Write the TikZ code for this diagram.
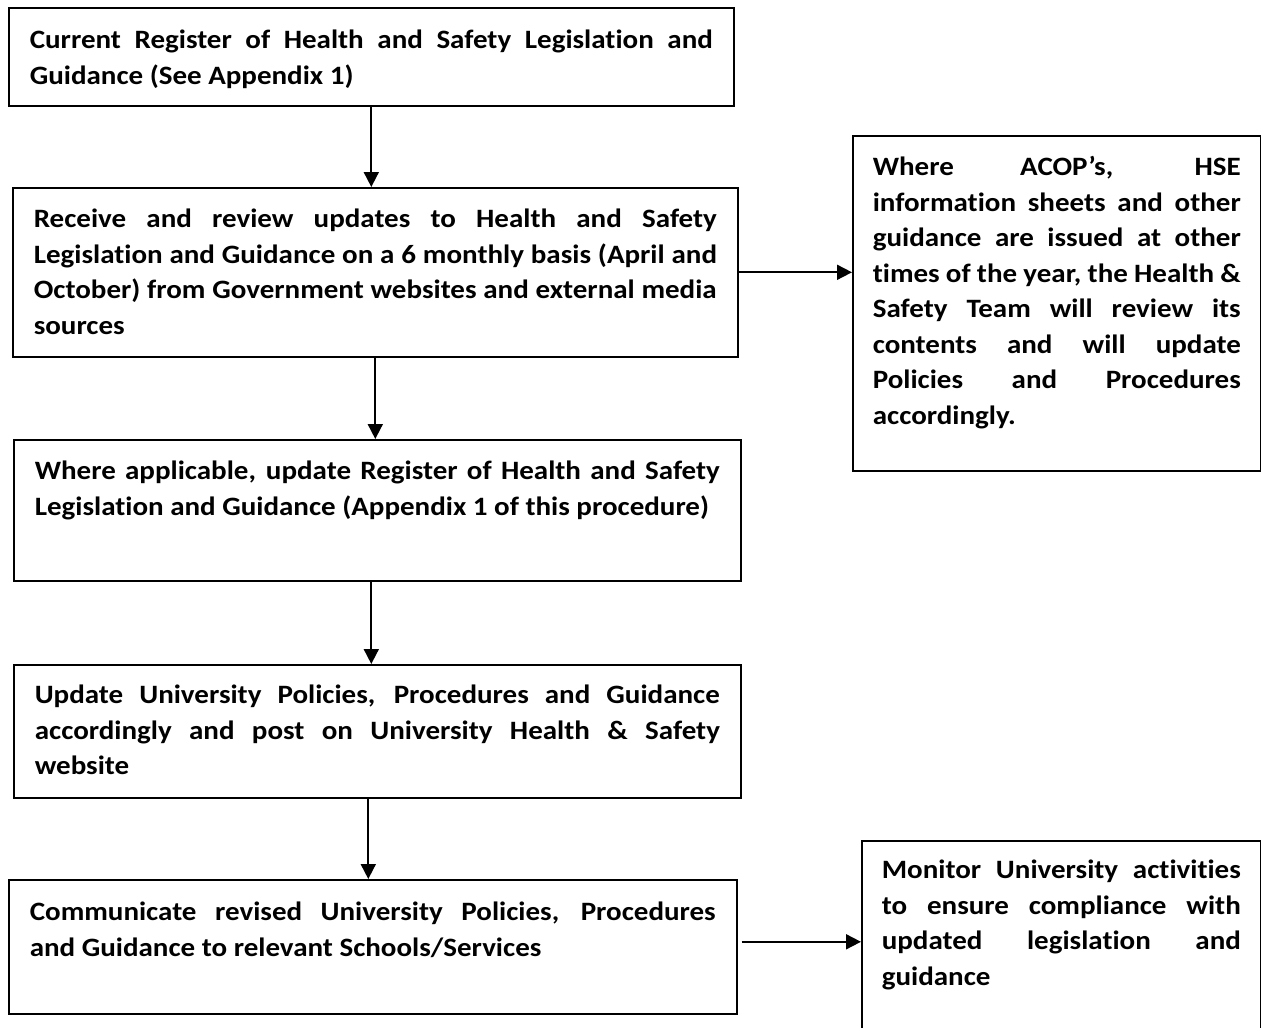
\documentclass[tikz,border=0pt]{standalone}
\usepackage{fontspec}
\setmainfont{Carlito}[FakeStretch=1.095, Ligatures=CommonOff]
\usetikzlibrary{arrows.meta}

\hyphenpenalty=10000
\exhyphenpenalty=10000
\tolerance=10000
\hbadness=10000
\hfuzz=20pt

% one justified line of a box
\newcommand{\fillline}[1]{\leavevmode\hbox to \linewidth{\spaceskip=0pt\xspaceskip=0pt #1}}

\tikzset{
  flowbox/.style={draw, line width=1.6pt, anchor=north west, inner xsep=21pt, inner ysep=0pt,
    align=justify, font=\fontsize{26.5}{35.5}\selectfont\bfseries},
  flowarrow/.style={line width=1.8pt, -{Triangle[length=15pt,width=15pt]}}
}

\begin{document}
\begin{tikzpicture}[x=1pt, y=-1pt]
  % page frame
  \useasboundingbox (0,0) rectangle (1261,1028);

  % main column
  \node[flowbox, text width=683pt, text height=41pt, text depth=57pt] (register) at (8,7)
    {\fillline{Current Register of Health and Safety Legislation and}\\
     Guidance (See Appendix 1)};
  \node[flowbox, text width=683pt, text height=40pt, text depth=129pt] (review) at (12,187)
    {\fillline{Receive and review updates to Health and Safety}\\
     \fillline{Legislation and Guidance on a 6 monthly basis (April and}\\
     \fillline{October) from Government websites and external media}\\
     sources};
  \node[flowbox, text width=685pt, text height=40pt, text depth=101pt] (update) at (13,439)
    {\fillline{Where applicable, update Register of Health and Safety}\\
     Legislation and Guidance (Appendix 1 of this procedure)};
  \node[flowbox, text width=685pt, text height=39pt, text depth=94pt] (policies) at (13,664)
    {\fillline{Update University Policies, Procedures and Guidance}\\
     \fillline{accordingly and post on University Health \& Safety}\\
     website};
  \node[flowbox, text width=686pt, text height=41pt, text depth=93pt] (communicate) at (8,879)
    {\fillline{Communicate revised University Policies, Procedures}\\
     and Guidance to relevant Schools/Services};

  % side boxes
  \node[flowbox, inner xsep=20pt, text width=368pt, text height=40pt, text depth=295pt] (acop) at (852,135)
    {\fillline{Where ACOP’s, HSE}\\
     \fillline{information sheets and other}\\
     \fillline{guidance are issued at other}\\
     \fillline{times of the year, the Health \&}\\
     \fillline{Safety Team will review its}\\
     \fillline{contents and will update}\\
     \fillline{Policies and Procedures}\\
     accordingly.};
  \node[flowbox, inner xsep=20pt, text width=359pt, text height=38pt, text depth=156pt] (monitor) at (861,840)
    {\fillline{Monitor University activities}\\
     \fillline{to ensure compliance with}\\
     \fillline{updated legislation and}\\
     guidance};

  % connectors
  \draw[flowarrow] (register.south) -- (register.south |- review.north);
  \draw[flowarrow] (review.south) -- (review.south |- update.north);
  \draw[flowarrow] ([xshift=-6pt]update.south) -- ([xshift=-6pt]update.south |- policies.north);
  \draw[flowarrow] ([xshift=-9pt]policies.south) -- ([xshift=-9pt]policies.south |- communicate.north);
  \draw[flowarrow] (review.east) -- (review.east -| acop.west);
  \draw[flowarrow] ([xshift=4pt, yshift=5pt]communicate.east) -- ([yshift=5pt]communicate.east -| monitor.west);
\end{tikzpicture}
\end{document}
